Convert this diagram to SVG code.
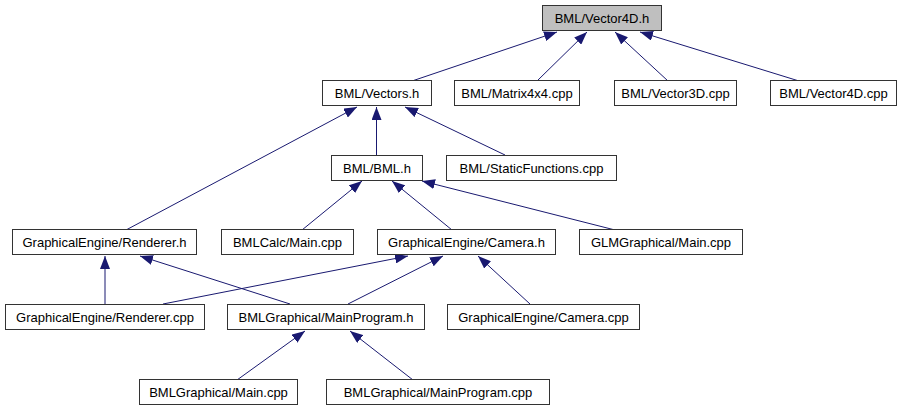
<svg xmlns="http://www.w3.org/2000/svg" width="908" height="411" viewBox="0 0 908 411">
<style>
.n rect{fill:#fff;stroke:#333;stroke-width:1}
.n.root rect{fill:#bfbfbf}
.n text{font-family:"Liberation Sans",Arial,sans-serif;font-size:13px;fill:#000;text-anchor:middle}
#edges line{stroke:#191970;stroke-width:1;marker-end:url(#ah)}
</style>
<defs>
<marker id="ah" viewBox="0 0 13 10" refX="13" refY="5" markerWidth="13" markerHeight="10" markerUnits="userSpaceOnUse" orient="auto">
<path d="M0,0 L13,5 L0,10 z" fill="#191970"/>
</marker>
</defs>
<rect width="908" height="411" fill="#fff"/>
<g id="edges">
<line x1="412" y1="81" x2="557" y2="32"/>
<line x1="537" y1="81" x2="587" y2="32"/>
<line x1="668" y1="81" x2="615" y2="32"/>
<line x1="799" y1="81" x2="640" y2="32"/>
<line x1="376.5" y1="155" x2="376.5" y2="107"/>
<line x1="126" y1="230" x2="357" y2="107"/>
<line x1="505" y1="155" x2="405" y2="107"/>
<line x1="302" y1="230" x2="362" y2="181"/>
<line x1="452" y1="230" x2="392" y2="181"/>
<line x1="615" y1="230" x2="422" y2="181"/>
<line x1="105" y1="304" x2="105" y2="256"/>
<line x1="290" y1="304" x2="140" y2="256"/>
<line x1="163" y1="304" x2="408" y2="256"/>
<line x1="348" y1="304" x2="443" y2="256"/>
<line x1="530" y1="304" x2="478" y2="256"/>
<line x1="237" y1="380" x2="305" y2="331"/>
<line x1="413" y1="380" x2="350" y2="331"/>
</g>
<g id="v4h" class="n root"><rect x="542.5" y="5.5" width="119" height="25"/><text x="602" y="23">BML/Vector4D.h</text></g>
<g id="vectors" class="n"><rect x="322.5" y="80.5" width="109" height="25"/><text x="377" y="98">BML/Vectors.h</text></g>
<g id="matrix" class="n"><rect x="454.5" y="80.5" width="125" height="25"/><text x="517" y="98">BML/Matrix4x4.cpp</text></g>
<g id="v3cpp" class="n"><rect x="614.5" y="80.5" width="122" height="25"/><text x="675.5" y="98">BML/Vector3D.cpp</text></g>
<g id="v4cpp" class="n"><rect x="770.5" y="80.5" width="126" height="25"/><text x="833.5" y="98">BML/Vector4D.cpp</text></g>
<g id="bml" class="n"><rect x="331.5" y="155.5" width="91" height="25"/><text x="377" y="173">BML/BML.h</text></g>
<g id="static" class="n"><rect x="446.5" y="155.5" width="170" height="25"/><text x="531.5" y="173">BML/StaticFunctions.cpp</text></g>
<g id="rendh" class="n"><rect x="12.5" y="229.5" width="184" height="25"/><text x="104.5" y="247">GraphicalEngine/Renderer.h</text></g>
<g id="calc" class="n"><rect x="221.5" y="229.5" width="132" height="25"/><text x="287.5" y="247">BMLCalc/Main.cpp</text></g>
<g id="camh" class="n"><rect x="377.5" y="229.5" width="178" height="25"/><text x="466.5" y="247">GraphicalEngine/Camera.h</text></g>
<g id="glm" class="n"><rect x="579.5" y="229.5" width="163" height="25"/><text x="661" y="247">GLMGraphical/Main.cpp</text></g>
<g id="rendcpp" class="n"><rect x="5.5" y="304.5" width="199" height="25"/><text x="105" y="322">GraphicalEngine/Renderer.cpp</text></g>
<g id="mph" class="n"><rect x="227.5" y="304.5" width="197" height="25"/><text x="326" y="322">BMLGraphical/MainProgram.h</text></g>
<g id="camcpp" class="n"><rect x="447.5" y="304.5" width="192" height="25"/><text x="543.5" y="322">GraphicalEngine/Camera.cpp</text></g>
<g id="main" class="n"><rect x="139.5" y="379.5" width="158" height="25"/><text x="218.5" y="397">BMLGraphical/Main.cpp</text></g>
<g id="mpcpp" class="n"><rect x="326.5" y="379.5" width="223" height="25"/><text x="438" y="397">BMLGraphical/MainProgram.cpp</text></g>
</svg>
